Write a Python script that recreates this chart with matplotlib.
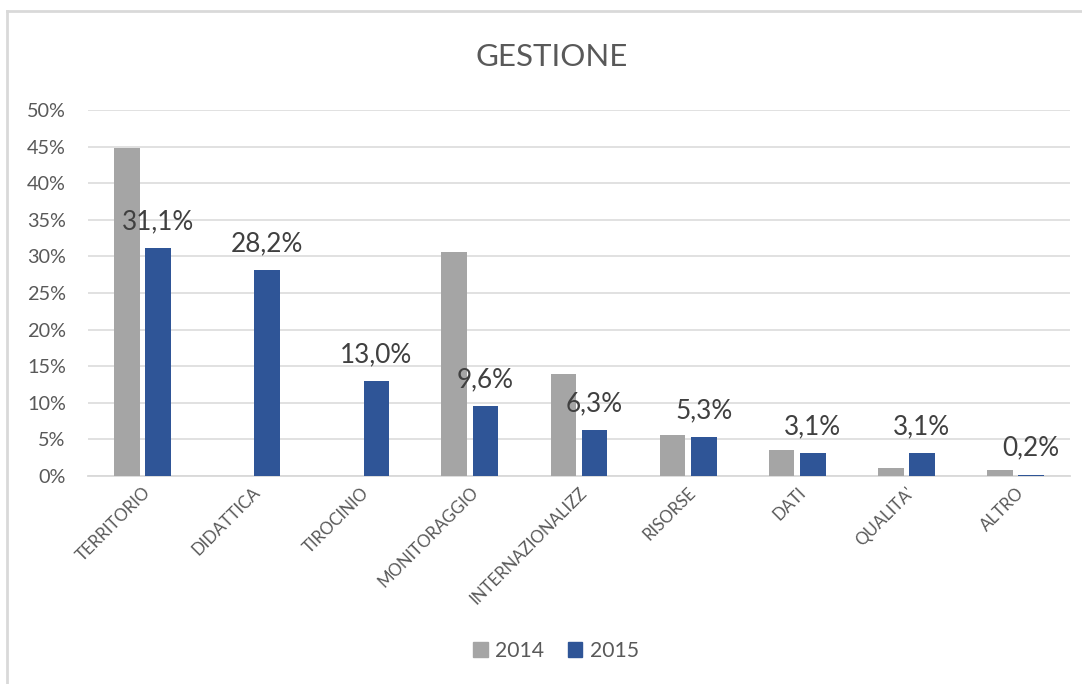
import matplotlib
matplotlib.use("Agg")
import matplotlib.pyplot as plt
from matplotlib.lines import Line2D
from matplotlib.patches import Patch
from matplotlib.ticker import FuncFormatter
import numpy as np

plt.rcParams['font.family'] = ['Lato', 'DejaVu Sans']

categories = ["TERRITORIO", "DIDATTICA", "TIROCINIO", "MONITORAGGIO", "INTERNAZIONALIZZ",
              "RISORSE", "DATI", "QUALITA'", "ALTRO"]
v2014 = [44.8, 0.0, 0.0, 30.6, 13.9, 5.6, 3.6, 1.1, 0.8]
v2015 = [31.1, 28.2, 13.0, 9.6, 6.3, 5.3, 3.1, 3.1, 0.2]
series_names = ["2014", "2015"]
yticks = [0, 5, 10, 15, 20, 25, 30, 35, 40, 45, 50]

c2014 = "#A5A5A5"
c2015 = "#2F5597"
txt = "#595959"

W, H = 1082, 684
fig = plt.figure(figsize=(W / 100, H / 100), dpi=100)
ax = fig.add_axes([88 / W, 1 - 476 / H, (1070 - 88) / W, (476 - 110) / H])

x = np.arange(len(categories))
bw = 0.235
off = 0.143
ax.bar(x - off, v2014, bw, color=c2014, zorder=3)
ax.bar(x + off, v2015, bw, color=c2015, zorder=3)

for xi, v in zip(x + off, v2015):
    ax.annotate(f"{v:.1f}%".replace(".", ","), (xi, v), xytext=(0, 13.5),
                textcoords="offset points", ha="center", va="baseline",
                fontsize=18.8, color="#404040", zorder=5)

ax.set_xlim(-0.5, len(categories) - 0.5)
ax.set_ylim(0, 50)
ax.set_yticks(yticks)
ax.yaxis.set_major_formatter(FuncFormatter(lambda v, p: f"{int(v)}%"))
ax.grid(axis="y", color="#D9D9D9", linewidth=1.1, zorder=0)
ax.set_axisbelow(True)
for s in ["top", "right", "left"]:
    ax.spines[s].set_visible(False)
ax.spines["bottom"].set_color("#D9D9D9")
ax.spines["bottom"].set_linewidth(1.3)
ax.tick_params(axis="y", length=0, pad=16, labelsize=14.3, labelcolor=txt)
ax.tick_params(axis="x", length=0, pad=6)
ax.set_xticks(x)
ax.set_xticklabels(categories, rotation=45, ha="right", rotation_mode="anchor",
                   fontsize=12.2, color=txt)

fig.text(552 / W, 1 - 57 / H, "GESTIONE", ha="center", va="center",
         fontsize=22.5, color=txt)

handles = [Patch(color=c2014), Patch(color=c2015)]
fig.legend(handles, series_names, loc="center", bbox_to_anchor=(556 / W, 1 - 651 / H),
           ncol=2, frameon=False, fontsize=15.2, handlelength=0.7, handleheight=0.7,
           handletextpad=0.35, columnspacing=1.1, labelcolor=txt)

# chart frame
fig.add_artist(Line2D([7 / W, 1], [1 - 11 / H, 1 - 11 / H], color="#D9D9D9", linewidth=2))
fig.add_artist(Line2D([7 / W, 7 / W], [0, 1 - 11 / H], color="#D9D9D9", linewidth=2))

fig.savefig("out.png", dpi=100, facecolor="white")
